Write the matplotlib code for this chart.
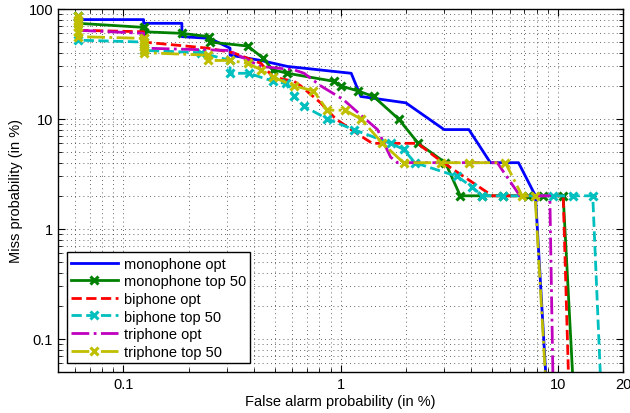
import numpy as np
import matplotlib
matplotlib.use("Agg")
import matplotlib.pyplot as plt
from matplotlib.ticker import LogLocator, NullFormatter

plt.rcParams["font.family"] = ["Liberation Sans", "DejaVu Sans"]

# false alarm (%) / miss (%)
mono_opt_fa = [0.062, 0.124, 0.124, 0.186, 0.186, 0.25, 0.31, 0.31, 0.43, 0.57, 1.12, 1.24,
               2.0, 3.0, 3.9, 4.9, 6.6, 7.9, 8.8]
mono_opt_miss = [80, 80, 74, 74, 56, 54, 44, 38, 34, 30, 26, 16,
                 14, 8, 8, 4, 4, 2, 0.05]

mono_top_fa = [0.062, 0.062, 0.124, 0.124, 0.186, 0.248, 0.25, 0.374, 0.438, 0.487, 0.57,
               0.93, 1.0, 1.2, 1.42, 1.85, 2.28, 3.04, 3.56, 4.5, 5.6, 7.3, 8.6, 10.6, 11.7]
mono_top_miss = [86, 74, 68, 62, 60, 56, 50, 46, 36, 28, 26,
                 22, 20, 18, 16, 10, 6, 4, 2, 2, 2, 2, 2, 2, 0.05]

bi_opt_fa = [0.062, 0.124, 0.124, 0.245, 0.32, 0.43, 0.49, 0.61, 0.655, 0.81, 0.95, 1.24,
             1.4, 2.26, 2.97, 5.0, 10.6, 11.2]
bi_opt_miss = [64, 62, 50, 44, 40, 32, 24, 22, 20, 14, 10, 7,
               6, 6, 4, 2, 2, 0.05]

bi_top_fa = [0.062, 0.062, 0.124, 0.124, 0.227, 0.31, 0.31, 0.378, 0.49, 0.56, 0.61, 0.68,
             0.87, 1.15, 1.7, 1.95, 2.2, 3.45, 4.04, 4.5, 5.6, 9.5, 11.7, 14.5, 15.7]
bi_top_miss = [86, 52, 50, 42, 40, 34, 26, 26, 22, 21, 16, 13,
               10, 8, 6, 5.3, 4, 3, 2.4, 2, 2, 2, 2, 2, 0.05]

tri_opt_fa = [0.062, 0.124, 0.124, 0.30, 0.32, 0.43, 0.61, 0.68, 0.81, 1.03, 1.17, 1.48,
              1.7, 1.83, 5.27, 6.7, 9.2, 9.5]
tri_opt_miss = [64, 60, 44, 42, 40, 30, 28, 26, 20, 15, 12, 8,
                4.5, 4, 4, 2, 2, 0.05]

tri_top_fa = [0.062, 0.062, 0.062, 0.062, 0.062, 0.062, 0.124, 0.124, 0.124, 0.124, 0.124,
              0.245, 0.245, 0.31, 0.374, 0.43, 0.49, 0.61, 0.75, 0.87, 1.05, 1.24, 1.56,
              1.95, 2.9, 3.9, 5.74, 6.86, 7.87, 8.76]
tri_top_miss = [86, 80, 74, 68, 62, 56, 54, 50, 46, 42, 40,
                38, 34, 34, 32, 28, 24, 20, 18, 12, 12, 10, 6,
                4, 4, 4, 4, 2, 2, 0.05]

fig = plt.figure(figsize=(6.3, 4.14), dpi=100)
ax = fig.add_axes([0.092, 0.099, 0.897, 0.877])

lw = 2.0


def marked(n):
    # markers on every point except the one that runs off the bottom
    return dict(marker="x", ms=5.5, mew=2.2, markevery=list(range(n - 1)))


ax.plot(mono_opt_fa, mono_opt_miss, "-", color=(0, 0, 1), lw=lw, label="monophone opt")
ax.plot(mono_top_fa, mono_top_miss, "-", color=(0, 0.5, 0), lw=lw, label="monophone top 50",
        **marked(len(mono_top_fa)))
ax.plot(bi_opt_fa, bi_opt_miss, "--", color=(1, 0, 0), lw=lw, label="biphone opt")
ax.plot(bi_top_fa, bi_top_miss, "--", color=(0, 0.75, 0.75), lw=lw, label="biphone top 50",
        **marked(len(bi_top_fa)))
ax.plot(tri_opt_fa, tri_opt_miss, "-.", color=(0.75, 0, 0.75), lw=lw, label="triphone opt")
ax.plot(tri_top_fa, tri_top_miss, "-.", color=(0.75, 0.75, 0), lw=lw, label="triphone top 50",
        **marked(len(tri_top_fa)))

ax.set_xscale("log")
ax.set_yscale("log")
ax.set_xlim(0.05, 20)
ax.set_ylim(0.05, 100)
ax.set_xticks([0.1, 1, 10, 20])
ax.set_xticklabels(["0.1", "1", "10", "20"])
ax.set_yticks([0.1, 1, 10, 100])
ax.set_yticklabels(["0.1", "1", "10", "100"])
ax.xaxis.set_minor_locator(LogLocator(base=10, subs=np.arange(2, 10)))
ax.yaxis.set_minor_locator(LogLocator(base=10, subs=np.arange(2, 10)))
ax.xaxis.set_minor_formatter(NullFormatter())
ax.yaxis.set_minor_formatter(NullFormatter())
ax.tick_params(which="both", direction="in", top=True, right=True, labelsize=10.5)
ax.tick_params(which="major", length=5)
ax.tick_params(which="minor", length=3)
ax.grid(True, which="both", linestyle=(0, (1, 4)), color="0.2", lw=0.6)
ax.set_axisbelow(True)
for s in ax.spines.values():
    s.set_linewidth(1.0)

ax.set_xlabel("False alarm probability (in %)", fontsize=10.5, labelpad=2)
ax.set_ylabel("Miss probability (in %)", fontsize=10.5, labelpad=4)

leg = ax.legend(loc="lower left", fontsize=10.5, handlelength=3.2, fancybox=False,
                framealpha=1, edgecolor="black", borderpad=0.3, labelspacing=0.25,
                handletextpad=0.4, borderaxespad=0.6)
leg.get_frame().set_linewidth(1.0)

fig.savefig("out.png", dpi=100)
